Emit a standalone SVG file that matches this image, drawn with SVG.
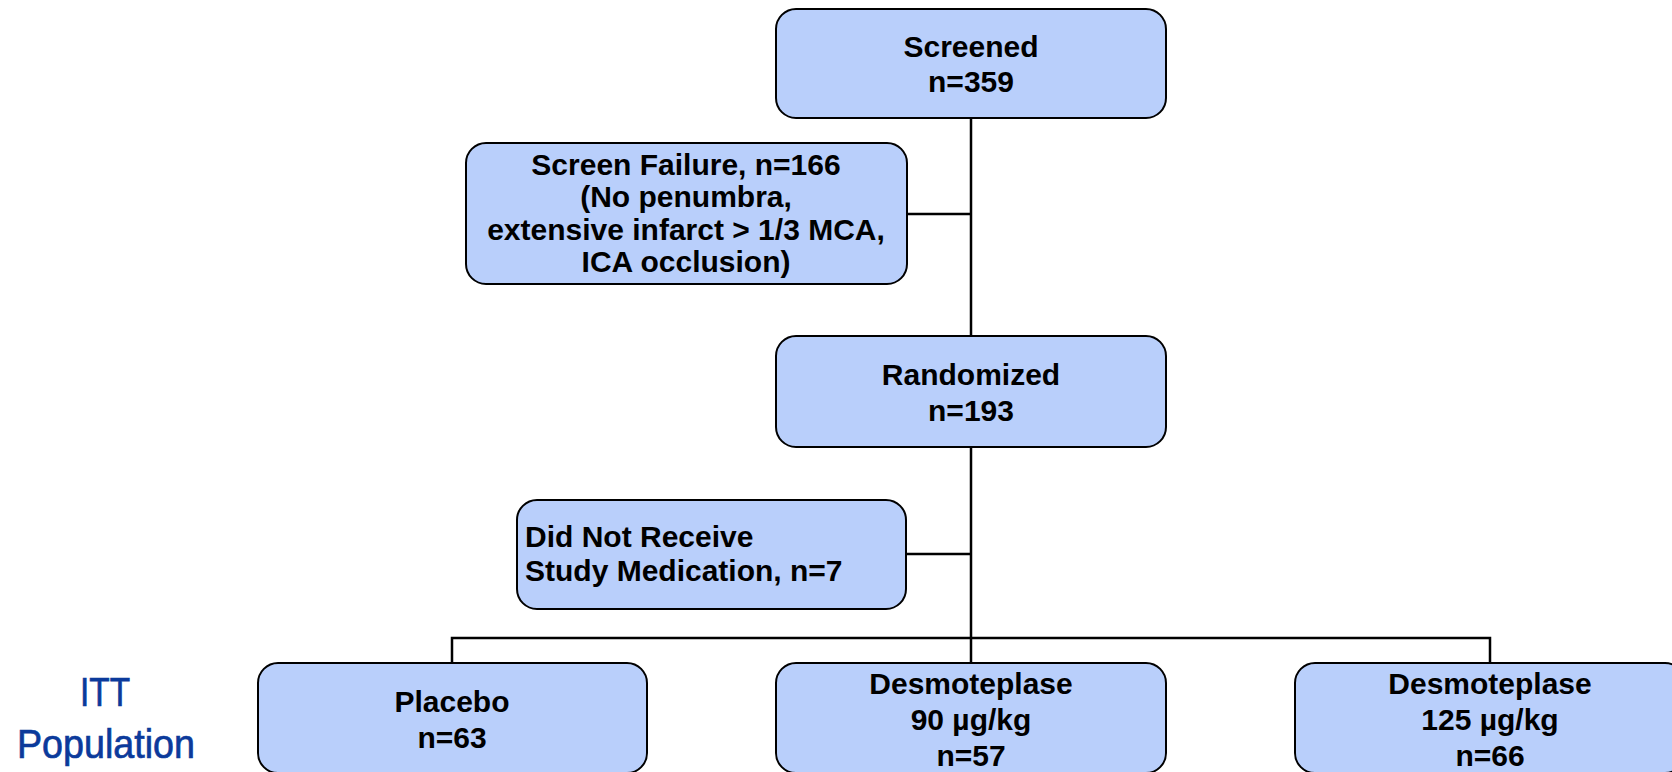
<svg xmlns="http://www.w3.org/2000/svg" width="1672" height="772" viewBox="0 0 1672 772">
<style>
.box{fill:#B9CFFB;stroke:#000;stroke-width:2}
.t{font-family:"Liberation Sans",Arial,sans-serif;font-weight:bold;font-size:30px;fill:#000;text-anchor:middle}
.l{text-anchor:start}
.c{fill:none;stroke:#000;stroke-width:2.5}
.itt{font-family:"Liberation Sans Narrow","Liberation Sans",Arial,sans-serif;font-size:41px;fill:#0B3A9B;stroke:#0B3A9B;stroke-width:0.7;text-anchor:middle}
</style>
<rect width="1672" height="772" fill="#fff"/>
<g id="connectors">
<path class="c" d="M971 118V336M971 447V638M907 214H971M906 554H971M452 663V638H1490V663M971 638V663"/>
</g>
<g id="screened">
<rect class="box" x="776" y="9" width="390" height="109" rx="20"/>
<text class="t" x="971" y="57">Screened</text>
<text class="t" x="971" y="92">n=359</text>
</g>
<g id="screen-failure">
<rect class="box" x="466" y="143" width="441" height="141" rx="20"/>
<text class="t" x="686" y="175">Screen Failure, n=166</text>
<text class="t" x="686" y="207">(No penumbra,</text>
<text class="t" x="686" y="240">extensive infarct &gt; 1/3 MCA,</text>
<text class="t" x="686" y="272">ICA occlusion)</text>
</g>
<g id="randomized">
<rect class="box" x="776" y="336" width="390" height="111" rx="20"/>
<text class="t" x="971" y="385">Randomized</text>
<text class="t" x="971" y="421">n=193</text>
</g>
<g id="not-received">
<rect class="box" x="517" y="500" width="389" height="109" rx="20"/>
<text class="t l" x="525" y="547">Did Not Receive</text>
<text class="t l" x="525" y="581">Study Medication, n=7</text>
</g>
<g id="itt-label">
<text class="itt" x="105" y="706" textLength="50" lengthAdjust="spacingAndGlyphs">ITT</text>
<text class="itt" x="106" y="758" textLength="178" lengthAdjust="spacingAndGlyphs">Population</text>
</g>
<g id="placebo">
<rect class="box" x="258" y="663" width="389" height="110" rx="20"/>
<text class="t" x="452" y="712">Placebo</text>
<text class="t" x="452" y="748">n=63</text>
</g>
<g id="desmo90">
<rect class="box" x="776" y="663" width="390" height="110" rx="20"/>
<text class="t" x="971" y="694">Desmoteplase</text>
<text class="t" x="971" y="730">90 µg/kg</text>
<text class="t" x="971" y="766">n=57</text>
</g>
<g id="desmo125">
<rect class="box" x="1295" y="663" width="390" height="110" rx="20"/>
<text class="t" x="1490" y="694">Desmoteplase</text>
<text class="t" x="1490" y="730">125 µg/kg</text>
<text class="t" x="1490" y="766">n=66</text>
</g>
</svg>
